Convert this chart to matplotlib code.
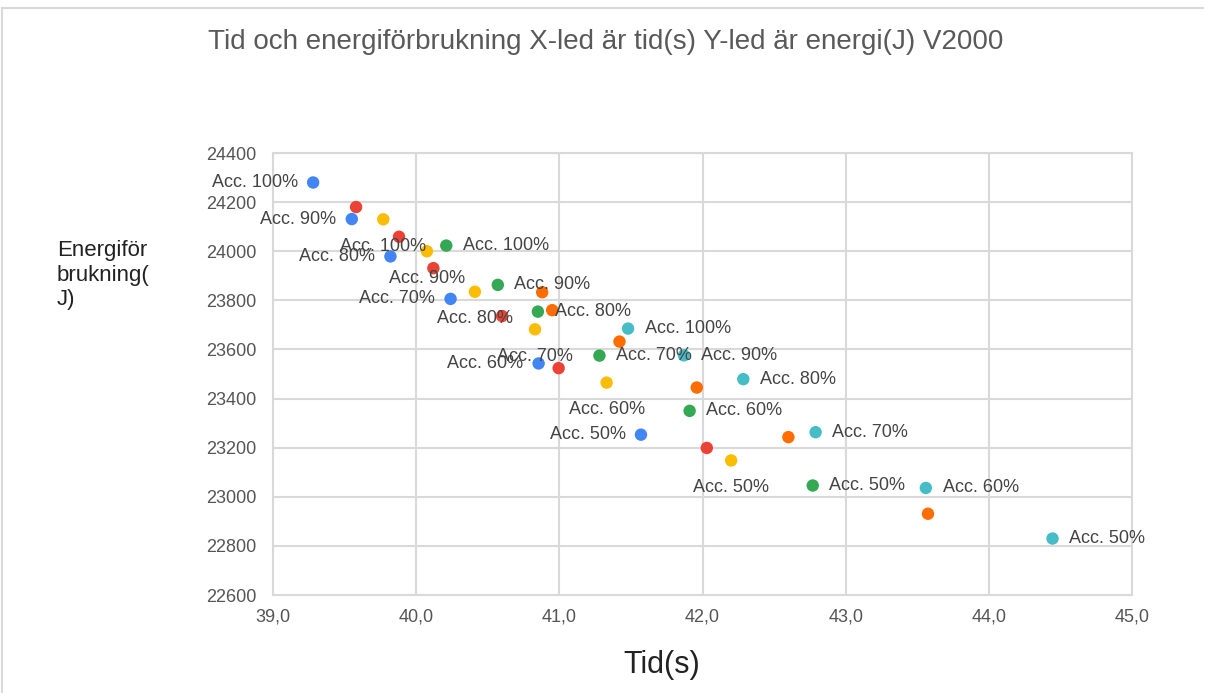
import matplotlib
matplotlib.use("Agg")
import matplotlib.pyplot as plt
from matplotlib.lines import Line2D

plt.rcParams["font.family"] = ["Liberation Sans", "DejaVu Sans"]

# Tid (s) och energi (J) per serie, Acc. 100% -> 50%
acc_labels = ["Acc. 100%", "Acc. 90%", "Acc. 80%", "Acc. 70%", "Acc. 60%", "Acc. 50%"]

blue_x = [39.28, 39.55, 39.82, 40.24, 40.855, 41.57]
blue_y = [24280, 24131, 23979, 23806, 23543, 23253]

red_x = [39.58, 39.88, 40.12, 40.60, 40.995, 42.03]
red_y = [24180, 24059, 23931, 23736, 23524, 23199]

yellow_x = [39.77, 40.075, 40.41, 40.83, 41.33, 42.20]
yellow_y = [24130, 24000, 23835, 23682, 23465, 23148]

green_x = [40.21, 40.57, 40.85, 41.28, 41.91, 42.77]
green_y = [24023, 23863, 23754, 23575, 23350, 23046]

orange_x = [40.88, 40.95, 41.42, 41.96, 42.60, 43.575]
orange_y = [23833, 23760, 23632, 23445, 23243, 22931]

teal_x = [41.48, 41.87, 42.285, 42.79, 43.56, 44.445]
teal_y = [23685, 23576, 23479, 23263, 23036, 22830]

x_ticks = [39.0, 40.0, 41.0, 42.0, 43.0, 44.0, 45.0]
y_ticks = [22600, 22800, 23000, 23200, 23400, 23600, 23800, 24000, 24200, 24400]

# (x, y, färg, etikettposition)
series = [
    (blue_x, blue_y, "#4285F4", "left"),
    (red_x, red_y, "#EA4335", None),
    (yellow_x, yellow_y, "#FBBC04", "below"),
    (green_x, green_y, "#34A853", "right"),
    (orange_x, orange_y, "#FF6D01", None),
    (teal_x, teal_y, "#46BDC6", "right"),
]

fig = plt.figure(figsize=(12.05, 6.93), dpi=100)
ax = fig.add_axes([0.2266, 0.1414, 0.7128, 0.6378])

for xs, ys, color, pos in series:
    ax.scatter(xs, ys, s=80, color=color, edgecolors="none", zorder=3)
    if pos is None:
        continue
    for x, y, lab in zip(xs, ys, acc_labels):
        if pos == "left":
            off, ha, va = (-11, 0), "right", "center"
        elif pos == "right":
            off, ha, va = (12, 0), "left", "center"
        else:
            off, ha, va = (0, -19.5), "center", "center"
        ax.annotate(lab, (x, y), xytext=off, textcoords="offset points",
                    ha=ha, va=va, fontsize=13, color="#444444", zorder=5)

ax.set_xlim(39.0, 45.0)
ax.set_ylim(22600, 24400)
ax.set_xticks(x_ticks)
ax.set_yticks(y_ticks)
ax.set_xticklabels([f"{v:.1f}".replace(".", ",") for v in x_ticks])
ax.set_yticklabels([str(v) for v in y_ticks])
ax.tick_params(length=0, labelsize=13, labelcolor="#555555")
ax.tick_params(axis="x", pad=10)
ax.tick_params(axis="y", pad=12)
ax.grid(True, color="#d9d9d9", linewidth=1.5, zorder=0)
ax.set_axisbelow(True)
for sp in ax.spines.values():
    sp.set_color("#d9d9d9")
    sp.set_linewidth(1.5)

fig.text(0.503, 0.939, "Tid och energiförbrukning X-led är tid(s) Y-led är energi(J) V2000",
         ha="center", va="center", fontsize=20, color="#595959")
fig.text(0.549, 0.040, "Tid(s)", ha="center", va="center", fontsize=22, color="#222222")
fig.text(0.047, 0.603, "Energiför\nbrukning(\nJ)", ha="left", va="center",
         fontsize=16, color="#222222", linespacing=1.22)

# ram runt diagrammet
fig.add_artist(Line2D([0.002, 0.998], [0.988, 0.988], transform=fig.transFigure,
                      color="#d9d9d9", linewidth=1.5))
fig.add_artist(Line2D([0.002, 0.002], [0.0, 0.988], transform=fig.transFigure,
                      color="#d9d9d9", linewidth=1.5))

fig.savefig("out.png", dpi=100)
